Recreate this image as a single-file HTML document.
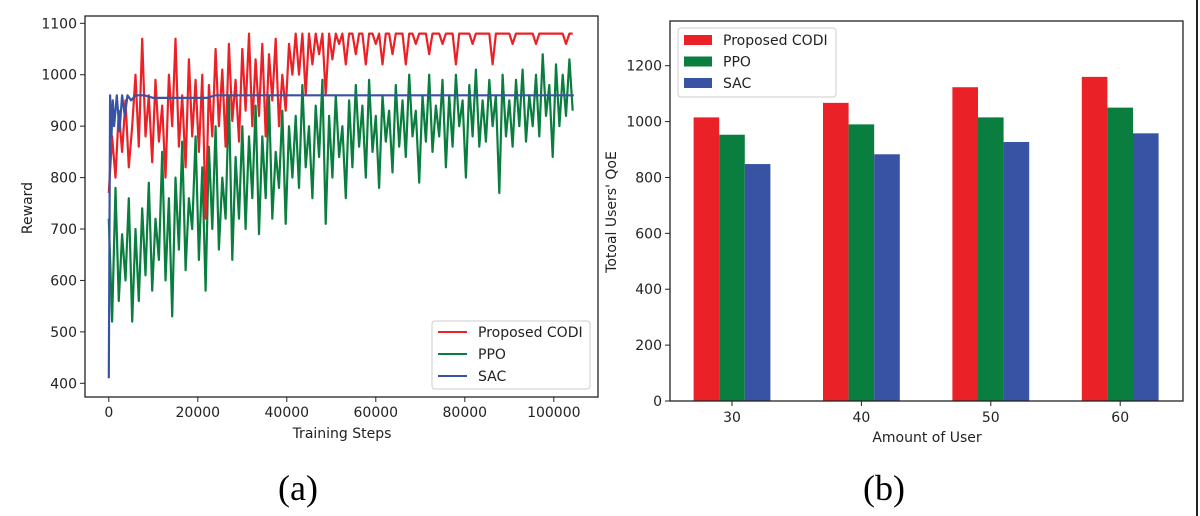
<!DOCTYPE html>
<html><head><meta charset="utf-8">
<style>
body{margin:0;background:#fff;}
svg{display:block;font-family:"DejaVu Sans","Liberation Sans",sans-serif;}
</style></head>
<body>
<svg id="fig" width="1200" height="516">
<line x1="1197" y1="0" x2="1197" y2="516" stroke="#222" stroke-width="2"/>
<text x="298" y="500" font-family="Liberation Serif,serif" font-size="36" text-anchor="middle">(a)</text>
<text x="884" y="500" font-family="Liberation Serif,serif" font-size="36" text-anchor="middle">(b)</text>
</svg>
<script>
// ---- Chart (a) data ----
const stepSize = 750;
const redVals = [770,880,800,930,850,950,820,900,1000,860,1070,880,960,830,
990,870,940,800,1000,900,1070,860,960,820,1030,880,990,850,
1000,720,980,880,1050,900,1010,860,1060,910,990,870,1050,930,
1080,900,1030,920,1060,880,1040,950,1070,900,1000,930,1060,1000,
1080,1000,1080,960,1080,1020,1080,1040,1080,960,1080,1030,1080,1060,
1080,1020,1080,1080,1040,1080,1080,1020,1080,1080,1060,1080,1020,1080,
1080,1040,1080,1080,1080,1020,1080,1080,1060,1080,1080,1080,1040,1080,
1080,1080,1060,1080,1080,1080,1020,1080,1080,1080,1080,1060,1080,1080,
1080,1080,1080,1020,1080,1080,1080,1080,1080,1060,1080,1080,1080,1080,
1080,1080,1060,1080,1080,1080,1080,1080,1080,1080,1080,1060,1080,1080];
const greenVals = [720,520,780,560,690,600,760,520,700,560,740,610,790,580,
720,640,850,600,760,530,800,660,870,620,760,700,880,640,
820,580,860,700,900,660,800,720,960,640,840,720,900,700,
880,760,940,690,880,760,960,720,850,780,930,710,900,800,
920,780,980,820,900,760,940,840,990,710,920,800,960,840,
900,760,950,820,980,860,940,800,990,850,920,780,960,870,
930,810,980,860,950,840,1000,880,930,790,960,870,1000,850,
940,880,990,820,960,860,1000,900,950,800,980,880,1010,860,
950,870,990,900,960,770,1000,880,950,860,990,900,1010,870,
960,900,1000,880,1040,920,980,840,1020,900,1000,920,1030,930];
const sacSteps = [0,300,600,900,1200,1800,2400,3000,3600,4200,5000,6000,8000,10000,12000,22000,24000,104500];
const sacVals = [410,960,880,950,900,960,890,960,920,960,950,960,960,955,955,955,960,960];
const aYTicks = [400,500,600,700,800,900,1000,1100];
const aXTicks = [0,20000,40000,60000,80000,100000];
// ---- Chart (b) data ----
const bCategories = ["30","40","50","60"];
const bCodi = [1015,1067,1123,1160];
const bPpo = [953,990,1015,1050];
const bSac = [848,883,927,958];
const bYTicks = [0,200,400,600,800,1000,1200];

const NS="http://www.w3.org/2000/svg";
const svg=document.getElementById('fig');
function mk(tag,attrs,parent,text){const e=document.createElementNS(NS,tag);for(const k in attrs)e.setAttribute(k,attrs[k]);if(text!==undefined)e.textContent=text;(parent||svg).appendChild(e);return e;}

const RED="#ea2227",GREEN="#0a7e3e",BLUE="#3953a4";

// ---- Chart (a) ----
const aL=85,aR=598,aT=16,aB=397;
const ax=v=>108.8+(v/100000)*(553.8-108.8);
const ay=v=>383.3-(v-400)/700*(383.3-23.3);
const ga=mk('g',{});


function poly(xs,ys,color,name){
  let pts=xs.map((x,i)=>ax(x).toFixed(1)+','+ay(ys[i]).toFixed(1)).join(' ');
  const p=mk('polyline',{points:pts,fill:'none',stroke:color,'stroke-width':2.2,'stroke-linejoin':'round'},ga);
  
  
}
const idxSteps=redVals.map((_,i)=>i*stepSize);
poly(idxSteps,greenVals,GREEN,'ppo-line');
poly(idxSteps,redVals,RED,'codi-line');
poly(sacSteps,sacVals,BLUE,'sac-line');
const fa=mk('rect',{x:aL,y:aT,width:aR-aL,height:aB-aT,fill:'none',stroke:'#222','stroke-width':1.3},ga);


aYTicks.forEach(v=>{const y=ay(v);mk('line',{x1:aL-5,x2:aL,y1:y,y2:y,stroke:'#222'},ga);
  const t=mk('text',{x:aL-8,y:y+5,'font-size':14,'text-anchor':'end',fill:'#222'},ga,v);
  
  });
aXTicks.forEach(v=>{const x=ax(v);mk('line',{x1:x,x2:x,y1:aB,y2:aB+5,stroke:'#222'},ga);
  const t=mk('text',{x:x,y:aB+20,'font-size':14,'text-anchor':'middle',fill:'#222'},ga,v);
  
  });
let t1=mk('text',{x:342,y:438,'font-size':14,'text-anchor':'middle',fill:'#222'},ga,'Training Steps');


let t2=mk('text',{x:32,y:208,'font-size':14,'text-anchor':'middle',fill:'#222',transform:'rotate(-90 32 208)'},ga,'Reward');


const la=mk('g',{},ga);


mk('rect',{x:432,y:321,width:158,height:68,rx:3,fill:'#fff',stroke:'#ccc'},la);
[['Proposed CODI',RED],['PPO',GREEN],['SAC',BLUE]].forEach((e,i)=>{const y=332+i*22;
  mk('line',{x1:438,x2:467,y1:y,y2:y,stroke:e[1],'stroke-width':2},la);
  const t=mk('text',{x:478,y:y+5,'font-size':14,fill:'#222'},la,e[0]);
  
  });

// ---- Chart (b) ----
const bL=670,bR=1183,bT=21,bB=401;
const by=v=>bB-v/1200*(bB-65.7);
const bx=i=>732+i*129.4;
const bw=25.6;
const gb=mk('g',{});


[[bCodi,RED,-1,'bar-codi'],[bPpo,GREEN,0,'bar-ppo'],[bSac,BLUE,1,'bar-sac']].forEach(s=>{
  s[0].forEach((v,i)=>{const x=bx(i)+s[2]*bw-bw/2;
    const r=mk('rect',{x:x,y:by(v),width:bw,height:bB-by(v),fill:s[1]},gb);
    
    });});
const fb=mk('rect',{x:bL,y:bT,width:bR-bL,height:bB-bT,fill:'none',stroke:'#222','stroke-width':1.3},gb);


bYTicks.forEach(v=>{const y=by(v);mk('line',{x1:bL-5,x2:bL,y1:y,y2:y,stroke:'#222'},gb);
  const t=mk('text',{x:bL-8,y:y+5,'font-size':14,'text-anchor':'end',fill:'#222'},gb,v);
  
  });
bCategories.forEach((c,i)=>{const x=bx(i);mk('line',{x1:x,x2:x,y1:bB,y2:bB+5,stroke:'#222'},gb);
  const t=mk('text',{x:x,y:bB+21,'font-size':14,'text-anchor':'middle',fill:'#222'},gb,c);
  
  });
let t3=mk('text',{x:927,y:442,'font-size':14,'text-anchor':'middle',fill:'#222'},gb,'Amount of User');


let t4=mk('text',{x:616,y:212,'font-size':14,'text-anchor':'middle',fill:'#222',transform:'rotate(-90 616 212)'},gb,"Totoal Users' QoE");


const lb=mk('g',{},gb);


mk('rect',{x:678,y:28,width:158,height:69,rx:3,fill:'#fff',stroke:'#ccc'},lb);
[['Proposed CODI',RED],['PPO',GREEN],['SAC',BLUE]].forEach((e,i)=>{const y=40+i*21.5;
  mk('rect',{x:684,y:y-5,width:28,height:10,fill:e[1]},lb);
  const t=mk('text',{x:723,y:y+5,'font-size':14,fill:'#222'},lb,e[0]);
  
  });
</script>
</body></html>
